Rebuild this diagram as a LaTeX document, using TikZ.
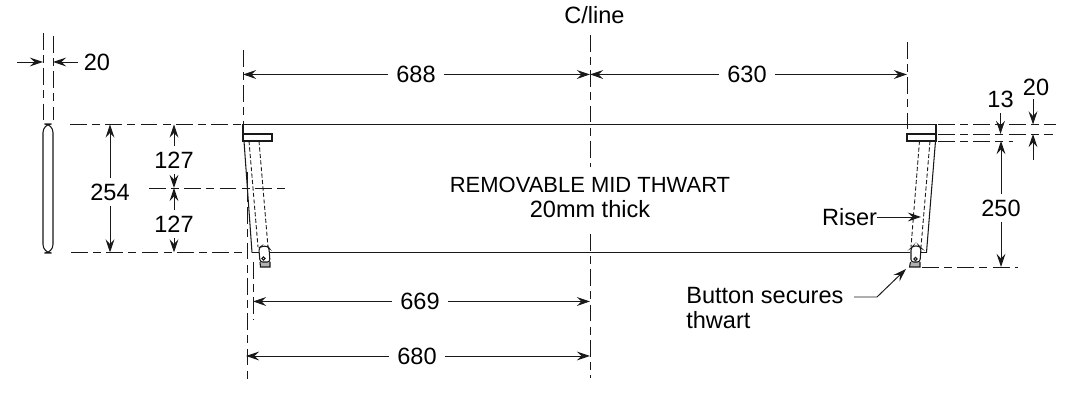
\documentclass[tikz,border=0pt]{standalone}
\usepackage{fontspec}
\setmainfont{Liberation Sans}
\usetikzlibrary{arrows.meta}

\tikzset{
  every node/.style={font=\fontsize{13.4}{13.8}\selectfont, inner sep=0pt},
  part/.style={line width=0.6pt, black!90},
  hidden/.style={line width=0.5pt, black!90, dash pattern=on 2.4pt off 1.3pt},
  centre/.style={line width=0.55pt, black!90, dash pattern=on 9.6pt off 3pt on 4.5pt off 3pt},
  dim/.style={line width=0.55pt, black!90, -{Stealth[length=7.5pt, width=5pt, inset=2.7pt]}},
  gap/.style={fill=white, inner xsep=4.5pt, inner ysep=3pt}
}

\begin{document}
\begin{tikzpicture}[x=0.02cm, y=-0.02cm]

\useasboundingbox (0,0) rectangle (1080,394);

% end section
\draw[part, rounded corners=4.9] (43,124) rectangle (53,253);
\draw[centre] (43,33) -- (43,120);
\draw[centre] (53,36) -- (53,120);
\coordinate (sl) at (43,62);
\coordinate (sr) at (53,62);
\node (d20a) at (97,62) {20};
\draw[dim] (17,62) -- (sl);
\draw[dim] (78,62) -- (sr);

% thwart
\draw[part] (243,124.5) -- (936,124.5);
\draw[part] (252,252.5) -- (259,252.5);
\draw[part] (269,252.5) -- (910,252.5);
\draw[part] (921,252.5) -- (926.5,252.5);

% left riser
\draw[part] (243,124.5) -- (243,141) -- (272,141) -- (272,134) -- (243,134);
\draw[part] (244,141) -- (252,252.5);
\draw[hidden] (249,141) -- (258,247);
\draw[hidden] (259,141) -- (268,247);
\fill[black!30] (260,261) -- (270,261) -- (270,267) -- (260.5,267) -- cycle;
\draw[part, fill=white, rounded corners=1.5] (260,262) -- (258.8,248) -- (261,246.5) -- (267.5,246) -- (269,248) -- (270,262) -- cycle;
\draw[part] (260,262) -- (260.5,267) -- (270,267) -- (270,262);
\draw[part] (263.5,258.5) circle (1.7);

% right riser
\draw[part] (936,124.5) -- (936,134);
\draw[part] (936,141) -- (907,141) -- (907,134) -- (936,134) -- cycle;
\draw[part] (935.5,141) -- (926.5,252.5);
\draw[hidden] (919.5,141) -- (911,247);
\draw[hidden] (930,141) -- (921,247);
\fill[black!30] (909.5,262) -- (920,262) -- (920,267) -- (909.5,267) -- cycle;
\draw[part, fill=white, rounded corners=1.5] (911,262) -- (911,248) -- (913,246) -- (919,246) -- (921,248) -- (920,262) -- cycle;
\draw[part] (910.5,262) -- (909.5,267) -- (920,267) -- (920,262);
\draw[part] (915.5,259) circle (1.7);

% centre lines
\draw[centre] (243,50) -- (243,124);
\draw[centre] (247,172) -- (247,381);
\draw[centre] (253,262) -- (253,320);
\draw[centre] (590,35) -- (590,167);
\draw[centre] (590,234) -- (590,378);
\draw[centre] (907,42) -- (907,134);
\draw[centre] (70,124.5) -- (243,124.5);
\draw[centre] (149,188) -- (285,188);
\draw[centre] (71,252.5) -- (247,252.5);
\draw[centre] (938,124.5) -- (1056,124.5);
\draw[centre] (938,134) -- (1053,134);
\draw[centre] (938,141) -- (1013,141);
\draw[centre] (922,267) -- (1018,267);

% labels
\node (cline) at (594.5,15) {C/line};
\node[align=center] (thwart) at (590,197) {{\fontsize{12.5}{14.2}\selectfont REMOVABLE MID THWART}\\[0.4pt]20mm thick};
\node[gap, inner xsep=0pt] (riser) at (849.5,217) {Riser};
\node[align=left, anchor=west] (button) at (686,308) {Button secures\\[-0.1pt]thwart};

% dimensions
\coordinate (a688) at (243,74.5);
\coordinate (b688) at (590,74.5);
\coordinate (a630) at (590,74.5);
\coordinate (b630) at (907,74.5);
\node[gap] (d688) at (416,74.5) {688};
\node[gap] (d630) at (747,74.5) {630};
\draw[dim] (d688) -- (a688);
\draw[dim] (d688) -- (b688);
\draw[dim] (d630) -- (a630);
\draw[dim] (d630) -- (b630);

\coordinate (a669) at (253,301.5);
\coordinate (b669) at (590,301.5);
\coordinate (a680) at (246,356);
\coordinate (b680) at (590,356);
\node[gap] (d669) at (420,301.5) {669};
\node[gap] (d680) at (417,356) {680};
\draw[dim] (d669) -- (a669);
\draw[dim] (d669) -- (b669);
\draw[dim] (d680) -- (a680);
\draw[dim] (d680) -- (b680);

\coordinate (a254) at (110,124.5);
\coordinate (b254) at (110,252.5);
\node[gap] (d254) at (110,192) {254};
\draw[dim] (d254) -- (a254);
\draw[dim] (d254) -- (b254);

\coordinate (a127) at (174,124.5);
\coordinate (b127) at (174,188);
\coordinate (c127) at (174,252.5);
\node[gap] (d127a) at (174,160) {127};
\node[gap] (d127b) at (174,224) {127};
\draw[dim] (d127a) -- (a127);
\draw[dim] (d127a) -- (b127);
\draw[dim] (d127b) -- (b127);
\draw[dim] (d127b) -- (c127);

\coordinate (a250) at (1001,141);
\coordinate (b250) at (1001,267);
\node[gap] (d250) at (1001,208) {250};
\draw[dim] (d250) -- (a250);
\draw[dim] (d250) -- (b250);

\node[gap] (d13) at (1000.5,99) {13};
\node (d20b) at (1036,87) {20};
\coordinate (a13) at (1000.5,134);
\coordinate (s20) at (1033,99);
\coordinate (a20) at (1033,124.5);
\coordinate (b20) at (1033,134);
\coordinate (c20) at (1033,160);
\draw[dim] (d13) -- (a13);
\draw[dim] (s20) -- (a20);
\draw[dim] (c20) -- (b20);

% leaders
\coordinate (rtip) at (921,217);
\draw[dim] (riser) -- (rtip);
\coordinate (bstart) at (854,297);
\coordinate (bend) at (877,297);
\coordinate (btip) at (906,269);
\draw[dim] (bstart) -- (bend) -- (btip);

\end{tikzpicture}
\end{document}
